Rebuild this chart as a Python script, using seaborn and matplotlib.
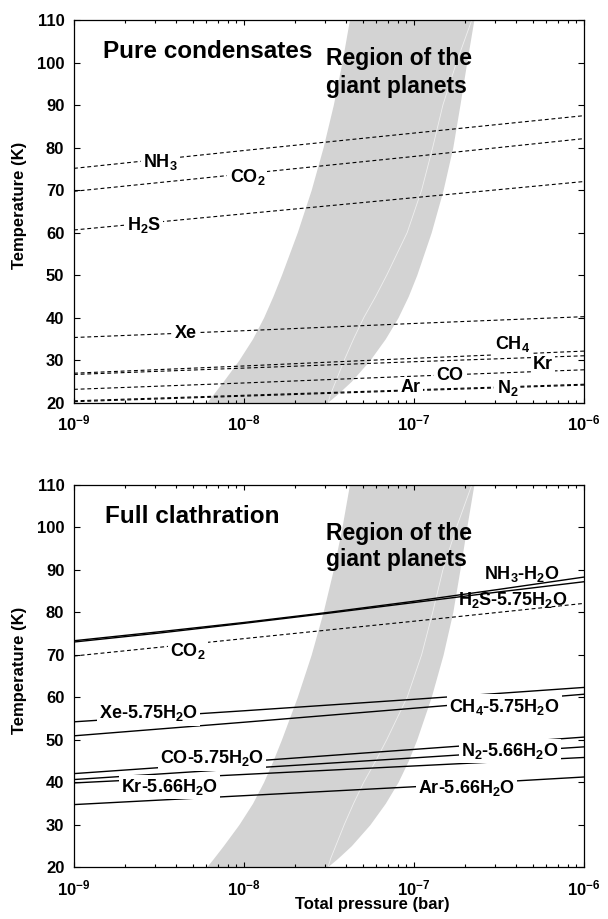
import numpy as np
import matplotlib
matplotlib.use("Agg")
import matplotlib.pyplot as plt
import seaborn as sns
from matplotlib.ticker import FixedLocator, FuncFormatter, LogLocator, NullFormatter

# ---------------- data ----------------
p_decades = [1e-9, 1e-8, 1e-7, 1e-6]
p_half = [1e-9, 3.16e-9, 1e-8, 3.16e-8, 1e-7, 3.16e-7, 1e-6]

# Pure condensates (dashed), T in K at p_decades
pure_NH3 = [75.1, 79.3, 83.4, 87.5]
pure_CO2 = [69.7, 73.8, 77.9, 82.1]
pure_H2S = [60.6, 64.4, 68.2, 72.0]
pure_Xe = [35.3, 36.9, 38.6, 40.2]
pure_CH4 = [26.9, 28.6, 30.4, 32.1]
pure_Kr = [26.6, 28.1, 29.6, 31.0]
pure_CO = [23.1, 24.6, 26.2, 27.7]
pure_Ar = [20.4, 21.7, 23.0, 24.3]
pure_N2 = [20.2, 21.5, 22.8, 24.1]

# Full clathration (solid), T in K
clath_NH3 = [73.3, 75.4, 77.6, 80.0, 82.6, 85.4, 88.3]   # at p_half
clath_H2S = [73.0, 75.1, 77.4, 79.8, 82.3, 84.8, 87.2]   # at p_half
clath_Xe = [54.2, 56.8, 59.5, 62.3]                      # at p_decades
clath_CH4 = [50.9, 54.1, 57.4, 60.7]
clath_CO = [42.0, 44.8, 47.7, 50.6]
clath_N2 = [40.6, 43.2, 45.7, 48.3]
clath_Kr = [39.8, 41.8, 43.8, 45.8]
clath_Ar = [34.7, 36.8, 38.9, 41.2]

# Region of the giant planets (log10 pressure of the band edges)
band_T = [20, 22, 25, 30, 35, 40, 45, 50, 60, 70, 80, 90, 100, 110]
band_left_logp = [-8.22, -8.18, -8.122, -8.03, -7.95, -7.885, -7.83, -7.78, -7.687,
                  -7.605, -7.535, -7.475, -7.424, -7.38]
band_right_logp = [-7.51, -7.45, -7.369, -7.259, -7.169, -7.094, -7.034, -6.984, -6.899,
                   -6.829, -6.772, -6.73, -6.69, -6.648]
band_mid_logp = [-7.505, -7.49, -7.46, -7.41, -7.355, -7.295, -7.225, -7.16, -7.04,
                 -6.955, -6.89, -6.83, -6.75, -6.66]

# labels: (text, log10 p centre, T baseline)
pure_labels = [
    ("NH$_3$", -8.49, 75.4), ("CO$_2$", -7.98, 71.8), ("H$_2$S", -8.59, 60.6),
    ("Xe", -8.34, 35.1), ("CH$_4$", -6.42, 32.5), ("Kr", -6.24, 27.8),
    ("CO", -6.79, 25.2), ("Ar", -7.02, 22.4), ("N$_2$", -6.45, 22.3),
]
clath_labels = [
    ("NH$_3$-H$_2$O", -6.367, 87.8, False), ("H$_2$S-5.75H$_2$O", -6.42, 81.8, False),
    ("CO$_2$", -8.33, 69.8, True), ("Xe-5.75H$_2$O", -8.56, 55.0, True),
    ("CH$_4$-5.75H$_2$O", -6.47, 56.6, True), ("CO-5.75H$_2$O", -8.19, 44.4, True),
    ("N$_2$-5.66H$_2$O", -6.435, 46.1, True), ("Kr-5.66H$_2$O", -8.44, 37.6, True),
    ("Ar-5.66H$_2$O", -6.69, 37.4, True),
]

# ---------------- style ----------------
sns.set_style("ticks")
plt.rcParams["font.family"] = ["Liberation Sans", "DejaVu Sans"]
plt.rcParams["font.weight"] = "bold"
plt.rcParams["axes.labelweight"] = "bold"
plt.rcParams["mathtext.default"] = "regular"
plt.rcParams["axes.linewidth"] = 0.9
for key in ["text.color", "axes.labelcolor", "xtick.color", "ytick.color", "axes.edgecolor"]:
    plt.rcParams[key] = "black"

fig = plt.figure(figsize=(6.08, 9.19), dpi=100)
ax_top = fig.add_axes([0.1217, 0.562, 0.8388, 0.4162])
ax_bot = fig.add_axes([0.1217, 0.0566, 0.8388, 0.4157])

DASH = (0, (3.5, 2.5))


def setup(ax):
    ax.set_xscale("log")
    ax.set_xlim(1e-9, 1e-6)
    ax.set_ylim(20, 110)
    ax.xaxis.set_major_locator(FixedLocator(p_decades))
    ax.xaxis.set_major_formatter(
        FuncFormatter(lambda v, pos: r"$10^{%d}$" % int(round(np.log10(v)))))
    ax.xaxis.set_minor_locator(LogLocator(base=10, subs=np.arange(2, 10)))
    ax.xaxis.set_minor_formatter(NullFormatter())
    ax.set_yticks(np.arange(20, 111, 10))
    ax.tick_params(axis="both", which="both", direction="in", top=True, right=True,
                   labelsize=12, width=0.8, colors="black")
    ax.tick_params(axis="x", which="major", length=3.5, pad=8)
    ax.tick_params(axis="x", which="minor", length=2)
    ax.tick_params(axis="y", which="major", length=4.3, pad=7)
    for s in ax.spines.values():
        s.set_visible(True)
        s.set_color("black")
    # band
    left = [10 ** v for v in band_left_logp]
    right = [10 ** v for v in band_right_logp]
    mid = [10 ** v for v in band_mid_logp]
    ax.fill_betweenx(band_T, left, right, color="#d3d3d3", lw=0, zorder=0)
    sns.lineplot(x=mid, y=band_T, sort=False, estimator=None, color="white",
                 lw=0.6, alpha=0.65, ax=ax, zorder=1)
    ax.set_ylabel("Temperature (K)", fontsize=12)
    ax.yaxis.set_label_coords(-0.092, 0.515)


def line(ax, xs, ys, dashed):
    sns.lineplot(x=xs, y=ys, sort=False, estimator=None, color="black",
                 lw=0.8 if dashed else 1.0, linestyle=DASH if dashed else "-",
                 ax=ax, zorder=2)


def label(ax, text, logp, t, box=True, size=13):
    kw = dict(ha="center", va="baseline", fontsize=size, fontweight="bold",
              zorder=5, color="black")
    if box:
        kw["bbox"] = dict(facecolor="white", edgecolor="none", pad=1.5)
    ax.text(10 ** logp, t, text, **kw)


# ---- top panel ----
setup(ax_top)
for ys in [pure_NH3, pure_CO2, pure_H2S, pure_Xe, pure_CH4, pure_Kr, pure_CO, pure_Ar, pure_N2]:
    line(ax_top, p_decades, ys, True)
for txt, lp, t in pure_labels:
    label(ax_top, txt, lp, t)
ax_top.text(10 ** -8.83, 101.1, "Pure condensates", fontsize=17.5, fontweight="bold",
            ha="left", va="baseline")
ax_top.text(10 ** -7.52, 99.4, "Region of the", fontsize=16.5, fontweight="bold",
            ha="left", va="baseline")
ax_top.text(10 ** -7.52, 92.9, "giant planets", fontsize=16.5, fontweight="bold",
            ha="left", va="baseline")

# ---- bottom panel ----
setup(ax_bot)
line(ax_bot, p_half, clath_NH3, False)
line(ax_bot, p_half, clath_H2S, False)
line(ax_bot, p_decades, pure_CO2, True)
for ys in [clath_Xe, clath_CH4, clath_CO, clath_N2, clath_Kr, clath_Ar]:
    line(ax_bot, p_decades, ys, False)
for txt, lp, t, box in clath_labels:
    label(ax_bot, txt, lp, t, box)
ax_bot.text(10 ** -8.82, 101.1, "Full clathration", fontsize=17.5, fontweight="bold",
            ha="left", va="baseline")
ax_bot.text(10 ** -7.52, 97.0, "Region of the", fontsize=16.5, fontweight="bold",
            ha="left", va="baseline")
ax_bot.text(10 ** -7.52, 90.9, "giant planets", fontsize=16.5, fontweight="bold",
            ha="left", va="baseline")
ax_bot.set_xlabel("Total pressure (bar)", fontsize=12)
ax_bot.xaxis.set_label_coords(0.584, -0.0785)

fig.savefig("out.png", dpi=100)
